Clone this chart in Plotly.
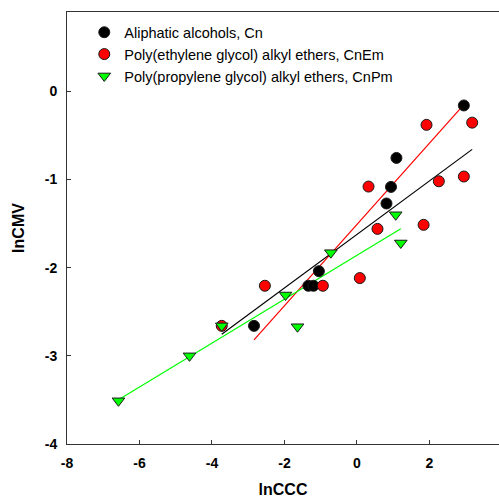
import numpy as np
import plotly.graph_objects as go

# lnCCC / lnCMV pairs for each surfactant family
alc_x = [2.95, 1.09, 0.94, 0.815, -1.05, -1.34, -1.20, -2.84]
alc_y = [-0.16, -0.755, -1.084, -1.272, -2.04, -2.205, -2.205, -2.66]

peg_x = [1.92, 3.18, 0.32, 2.26, 2.95, 0.567, 1.84, -2.54, -0.94, 0.08, -3.73]
peg_y = [-0.38, -0.355, -1.08, -1.02, -0.966, -1.56, -1.514, -2.205, -2.205, -2.118, -2.66]

ppg_x = [-6.58, -4.62, -3.73, -1.97, -0.72, -1.64, 1.07, 1.21]
ppg_y = [-3.51, -3.0, -2.66, -2.31, -1.83, -2.67, -1.40, -1.72]

names = [
    "Aliphatic alcohols, Cn",
    "Poly(ethylene glycol) alkyl ethers, CnEm",
    "Poly(propylene glycol) alkyl ethers, CnPm",
]

x_ticks = [-8, -6, -4, -2, 0, 2]
y_ticks = [-4, -3, -2, -1, 0]
x_range = [-8, 3.92]
y_range = [-4, 0.9]

W, H = 499, 502
ML, MR, MT, MB = 67, 0, 12, 58

fig = go.Figure()


def fit_line(xs, ys):
    k, b = np.polyfit(xs, ys, 1)
    xx = np.array([min(xs), max(xs)])
    return xx, k * xx + b


# least-squares lines (colours as in the original figure)
for xs, ys, col in [(alc_x, alc_y, "#ff0000"), (peg_x, peg_y, "#000000"), (ppg_x, ppg_y, "#00ff00")]:
    lx, ly = fit_line(xs, ys)
    fig.add_trace(go.Scatter(x=lx, y=ly, mode="lines", line=dict(color=col, width=1.2),
                             showlegend=False, hoverinfo="skip"))

outline = dict(color="#1a1a1a", width=1)
fig.add_trace(go.Scatter(x=alc_x, y=alc_y, mode="markers", name=names[0],
                         marker=dict(symbol="circle", size=11, color="#000000", line=outline)))
fig.add_trace(go.Scatter(x=peg_x, y=peg_y, mode="markers", name=names[1],
                         marker=dict(symbol="circle", size=11, color="#ff0000", line=outline)))
fig.add_trace(go.Scatter(x=ppg_x, y=ppg_y, mode="markers", name=names[2],
                         marker=dict(symbol="triangle-down", size=11, color="#00ff00", line=outline)))

tick_font = dict(family="Liberation Sans, Arial", size=14, color="#000000")
title_font = dict(family="Liberation Sans, Arial", size=16, color="#000000")


def bold_labels(vals):
    return ["<b>%d</b>" % v for v in vals]


fig.update_xaxes(range=x_range, tickvals=x_ticks, ticktext=bold_labels(x_ticks),
                 ticks="inside", ticklen=4, tickcolor="#333",
                 showline=True, linecolor="#333", linewidth=1, mirror=True, showgrid=False,
                 zeroline=False, tickfont=tick_font, ticklabelstandoff=6,
                 title=dict(text="<b>lnCCC</b>", font=title_font, standoff=14))
fig.update_yaxes(range=y_range, tickvals=y_ticks, ticktext=bold_labels(y_ticks),
                 ticks="inside", ticklen=4, tickcolor="#333",
                 showline=True, linecolor="#333", linewidth=1, mirror=False, showgrid=False,
                 zeroline=False, tickfont=tick_font, ticklabelstandoff=6,
                 title=dict(text="<b>lnCMV</b>", font=title_font, standoff=16))

# the "4" label sits just past the right edge of the plotting area
fig.add_trace(go.Scatter(x=[4], y=[y_range[0]], mode="text", text=["<b>4</b>"],
                         textposition="bottom center", cliponaxis=False,
                         textfont=dict(family="Liberation Sans, Arial", size=14, color="#000000"),
                         showlegend=False, hoverinfo="skip"))

fig.update_layout(
    width=W, height=H, margin=dict(l=ML, r=MR, t=MT, b=MB),
    plot_bgcolor="white", paper_bgcolor="white",
    legend=dict(x=0.04, y=0.99, xanchor="left", yanchor="top", bgcolor="rgba(0,0,0,0)",
                font=dict(family="Liberation Sans, Arial", size=14.5, color="#000000"),
                itemwidth=30, tracegroupgap=0),
)

fig.write_html("out.html")
